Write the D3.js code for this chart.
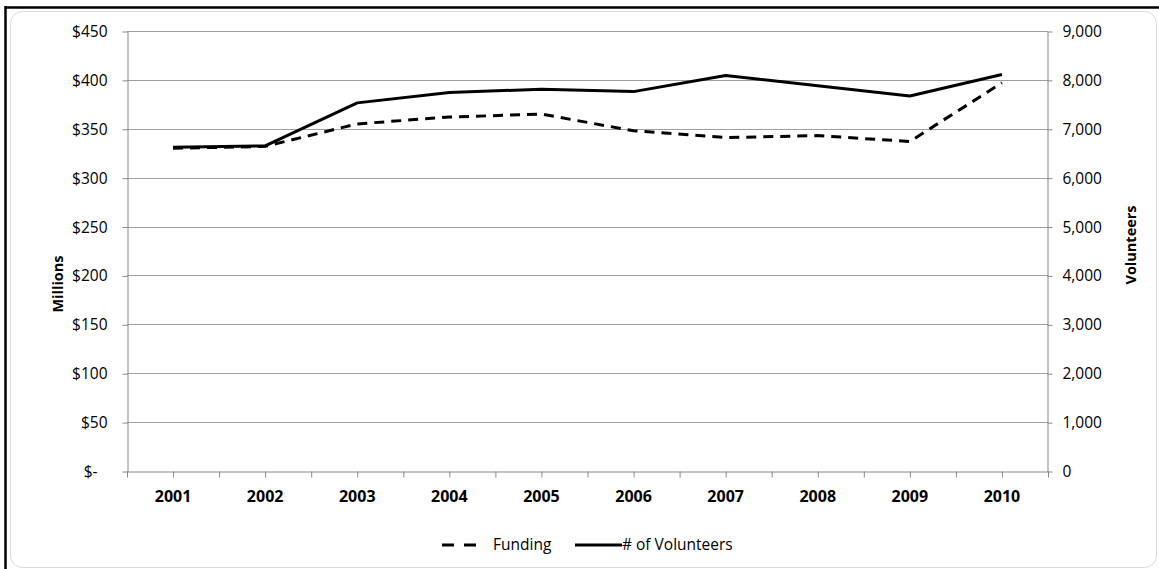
<!DOCTYPE html>
<html>
<head>
<meta charset="utf-8">
<script src="https://cdn.jsdelivr.net/npm/d3@7"></script>
<style>
  body { margin: 0; background: #fff; }
  text { font-family: "Open Sans", sans-serif; fill: #000; }
</style>
</head>
<body>
<div id="chart"></div>
<script>
const years = ["2001","2002","2003","2004","2005","2006","2007","2008","2009","2010"];
const funding = [330, 332, 355, 362, 365, 348, 341, 343, 337, 397];
const volunteers = [6620, 6650, 7530, 7740, 7810, 7760, 8090, 7880, 7670, 8110];
const leftTicks = [0, 50, 100, 150, 200, 250, 300, 350, 400, 450];
const rightTicks = [0, 1000, 2000, 3000, 4000, 5000, 6000, 7000, 8000, 9000];

const W = 1159, H = 569;
const plot = {left: 127, right: 1048, top: 31, bottom: 471};

const svg = d3.select("#chart")
              .append("svg")
              .attr("width", W)
              .attr("height", H);

// frame
svg.append("rect")
   .attr("x", 10.5).attr("y", 11.5)
   .attr("width", 1146).attr("height", 556)
   .attr("rx", 12)
   .attr("fill", "#fff")
   .attr("stroke", "#d9d9d9");
svg.append("line").attr("x1", 5).attr("x2", W).attr("y1", 7.5).attr("y2", 7.5)
   .attr("stroke", "#000").attr("stroke-width", 2.5);
svg.append("line").attr("x1", 5.5).attr("x2", 5.5).attr("y1", 6).attr("y2", H)
   .attr("stroke", "#000").attr("stroke-width", 2.5);

const x = d3.scaleBand()
            .domain(years)
            .range([plot.left, plot.right]);
const cx = d => x(d) + x.bandwidth() / 2;

const yL = d3.scaleLinear().domain([0, 450]).range([plot.bottom, plot.top]);
const yR = d3.scaleLinear().domain([0, 9000]).range([plot.bottom, plot.top]);

// gridlines
svg.append("g")
   .selectAll("line")
   .data(leftTicks.slice(1))
   .enter()
   .append("line")
   .attr("x1", plot.left).attr("x2", plot.right)
   .attr("y1", d => Math.round(yL(d)) + 0.5)
   .attr("y2", d => Math.round(yL(d)) + 0.5)
   .attr("stroke", "#a0a0a0");

// left axis
const gL = svg.append("g")
   .attr("transform", "translate(" + (plot.left + 0.5) + ",0.5)")
   .call(d3.axisLeft(yL)
           .tickValues(leftTicks)
           .tickFormat(d => d === 0 ? "$-" : "$" + d)
           .tickSize(5)
           .tickPadding(15)
           .tickSizeOuter(0));
gL.selectAll("text").style("font-size", "15.5px")
  .attr("dx", d => d === 0 ? -10 : 0);

// right axis
const gR = svg.append("g")
   .attr("transform", "translate(" + (plot.right - 0.5) + ",0.5)")
   .call(d3.axisRight(yR)
           .tickValues(rightTicks)
           .tickFormat(d3.format(","))
           .tickSize(5)
           .tickPadding(10)
           .tickSizeOuter(0));
gR.selectAll("text").style("font-size", "15.5px");

// bottom axis: tick marks at half-band steps, labels at band centres
const half = d3.scaleLinear().domain([0, years.length * 2]).range([plot.left, plot.right]);
svg.append("g")
   .attr("transform", "translate(0," + (plot.bottom + 0.5) + ")")
   .call(d3.axisBottom(half)
           .tickValues(d3.range(0, years.length * 2 + 1))
           .tickFormat("")
           .tickSize(6)
           .tickSizeOuter(0));
svg.append("g")
   .attr("transform", "translate(0," + plot.bottom + ")")
   .call(d3.axisBottom(x).tickSize(0).tickPadding(20))
   .call(g => g.select(".domain").remove())
   .selectAll("text")
   .style("font-size", "16px")
   .style("font-weight", "bold");

svg.selectAll(".domain, .tick line").attr("stroke", "#888");

// axis titles
svg.append("text")
   .attr("transform", "translate(63,284) rotate(-90)")
   .attr("text-anchor", "middle")
   .style("font-size", "14.5px")
   .style("font-weight", "bold")
   .text("Millions");
svg.append("text")
   .attr("transform", "translate(1136,245) rotate(-90)")
   .attr("text-anchor", "middle")
   .style("font-size", "14.5px")
   .style("font-weight", "bold")
   .text("Volunteers");

// series
const lineF = d3.line().x((d, i) => cx(years[i])).y(d => yL(d));
const lineV = d3.line().x((d, i) => cx(years[i])).y(d => yR(d));

svg.append("path")
   .datum(funding)
   .attr("d", lineF)
   .attr("fill", "none")
   .attr("stroke", "#000")
   .attr("stroke-width", 3)
   .attr("stroke-dasharray", "10,7");

svg.append("path")
   .datum(volunteers)
   .attr("d", lineV)
   .attr("fill", "none")
   .attr("stroke", "#000")
   .attr("stroke-width", 3)
   .attr("stroke-linejoin", "round");

// legend
const lg = svg.append("g").attr("transform", "translate(0,545)");
lg.append("line").attr("x1", 442).attr("x2", 476).attr("y1", 0).attr("y2", 0)
  .attr("stroke", "#000").attr("stroke-width", 3).attr("stroke-dasharray", "12,10");
lg.append("text").attr("x", 493).attr("dy", "0.35em").style("font-size", "15.5px").text("Funding");
lg.append("line").attr("x1", 575).attr("x2", 622).attr("y1", 0).attr("y2", 0)
  .attr("stroke", "#000").attr("stroke-width", 3);
lg.append("text").attr("x", 622).attr("dy", "0.35em").style("font-size", "15.5px").text("# of Volunteers");
</script>
</body>
</html>
